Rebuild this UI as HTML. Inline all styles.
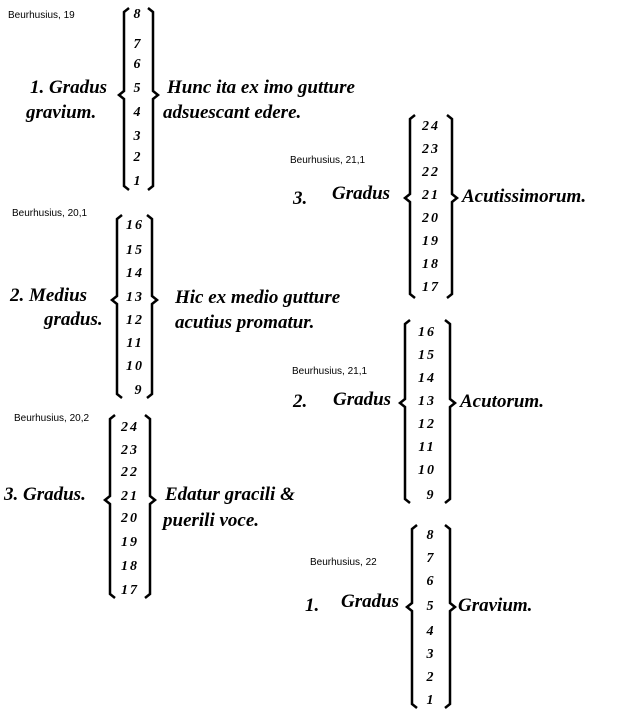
<!DOCTYPE html>
<html><head><meta charset="utf-8"><style>
body{margin:0;background:#fff;width:619px;height:720px;position:relative;overflow:hidden}
.l{position:absolute;font:10px "Liberation Sans",sans-serif;color:#000;white-space:nowrap}
.t{position:absolute;font:italic bold 19px "Liberation Serif",serif;color:#000;white-space:nowrap;line-height:1}
.n{position:absolute;font:italic bold 14px "Liberation Serif",serif;color:#000;line-height:1;width:30px;text-align:center;letter-spacing:2px}
svg{position:absolute;left:0;top:0}
</style></head><body>
<svg width="619" height="720" fill="none" stroke="#000" stroke-width="2.5">
<path d="M129 8 L124 12 L124 91 L119 95 L124 99 L124 186 L129 190"/>
<path d="M148 8 L153 12 L153 91 L158 95 L153 99 L153 186 L148 190"/>
<path d="M122 215 L117 219 L117 296 L112 300 L117 304 L117 394 L122 398"/>
<path d="M147 215 L152 219 L152 296 L157 300 L152 304 L152 394 L147 398"/>
<path d="M115 415 L110 419 L110 496 L105 500 L110 504 L110 594 L115 598"/>
<path d="M145 415 L150 419 L150 496 L155 500 L150 504 L150 594 L145 598"/>
<path d="M415 115 L410 119 L410 194 L405 198 L410 202 L410 294 L415 298"/>
<path d="M447 115 L452 119 L452 194 L457 198 L452 202 L452 294 L447 298"/>
<path d="M410 320 L405 324 L405 399 L400 403 L405 407 L405 499 L410 503"/>
<path d="M445 320 L450 324 L450 399 L455 403 L450 407 L450 499 L445 503"/>
<path d="M417 525 L412 529 L412 603 L407 607 L412 611 L412 704 L417 708"/>
<path d="M445 525 L450 529 L450 603 L455 607 L450 611 L450 704 L445 708"/>
</svg>

<div class="l" style="left:8px;top:10px">Beurhusius, 19</div>
<div class="n" style="left:123px;top:8px">8</div><div class="n" style="left:123px;top:38px">7</div><div class="n" style="left:123px;top:58px">6</div><div class="n" style="left:123px;top:82px">5</div><div class="n" style="left:123px;top:106px">4</div><div class="n" style="left:123px;top:130px">3</div><div class="n" style="left:123px;top:151px">2</div><div class="n" style="left:123px;top:175px">1</div>
<div class="t" style="left:30px;top:78px">1. Gradus</div>
<div class="t" style="left:26px;top:103px">gravium.</div>
<div class="t" style="left:167px;top:78px">Hunc ita ex imo gutture</div>
<div class="t" style="left:163px;top:103px">adsuescant edere.</div>

<div class="l" style="left:12px;top:208px">Beurhusius, 20,1</div>
<div class="n" style="left:120px;top:219px">16</div><div class="n" style="left:120px;top:244px">15</div><div class="n" style="left:120px;top:267px">14</div><div class="n" style="left:120px;top:291px">13</div><div class="n" style="left:120px;top:314px">12</div><div class="n" style="left:120px;top:337px">11</div><div class="n" style="left:120px;top:360px">10</div><div class="n" style="left:124px;top:384px">9</div>
<div class="t" style="left:10px;top:286px">2. Medius</div>
<div class="t" style="left:44px;top:310px">gradus.</div>
<div class="t" style="left:175px;top:288px">Hic ex medio gutture</div>
<div class="t" style="left:175px;top:313px">acutius promatur.</div>

<div class="l" style="left:14px;top:413px">Beurhusius, 20,2</div>
<div class="n" style="left:115px;top:421px">24</div><div class="n" style="left:115px;top:444px">23</div><div class="n" style="left:115px;top:466px">22</div><div class="n" style="left:115px;top:490px">21</div><div class="n" style="left:115px;top:512px">20</div><div class="n" style="left:115px;top:536px">19</div><div class="n" style="left:115px;top:560px">18</div><div class="n" style="left:115px;top:584px">17</div>
<div class="t" style="left:4px;top:485px">3. Gradus.</div>
<div class="t" style="left:165px;top:485px">Edatur gracili &amp;</div>
<div class="t" style="left:163px;top:511px">puerili voce.</div>

<div class="l" style="left:290px;top:155px">Beurhusius, 21,1</div>
<div class="n" style="left:416px;top:120px">24</div><div class="n" style="left:416px;top:143px">23</div><div class="n" style="left:416px;top:166px">22</div><div class="n" style="left:416px;top:189px">21</div><div class="n" style="left:416px;top:212px">20</div><div class="n" style="left:416px;top:235px">19</div><div class="n" style="left:416px;top:258px">18</div><div class="n" style="left:416px;top:281px">17</div>
<div class="t" style="left:293px;top:189px">3.</div>
<div class="t" style="left:332px;top:184px">Gradus</div>
<div class="t" style="left:462px;top:187px">Acutissimorum.</div>

<div class="l" style="left:292px;top:366px">Beurhusius, 21,1</div>
<div class="n" style="left:412px;top:326px">16</div><div class="n" style="left:412px;top:349px">15</div><div class="n" style="left:412px;top:372px">14</div><div class="n" style="left:412px;top:395px">13</div><div class="n" style="left:412px;top:418px">12</div><div class="n" style="left:412px;top:441px">11</div><div class="n" style="left:412px;top:464px">10</div><div class="n" style="left:416px;top:489px">9</div>
<div class="t" style="left:293px;top:392px">2.</div>
<div class="t" style="left:333px;top:390px">Gradus</div>
<div class="t" style="left:460px;top:392px">Acutorum.</div>

<div class="l" style="left:310px;top:557px">Beurhusius, 22</div>
<div class="n" style="left:416px;top:529px">8</div><div class="n" style="left:416px;top:552px">7</div><div class="n" style="left:416px;top:575px">6</div><div class="n" style="left:416px;top:600px">5</div><div class="n" style="left:416px;top:625px">4</div><div class="n" style="left:416px;top:648px">3</div><div class="n" style="left:416px;top:671px">2</div><div class="n" style="left:416px;top:694px">1</div>
<div class="t" style="left:305px;top:596px">1.</div>
<div class="t" style="left:341px;top:592px">Gradus</div>
<div class="t" style="left:458px;top:596px">Gravium.</div>
</body></html>
